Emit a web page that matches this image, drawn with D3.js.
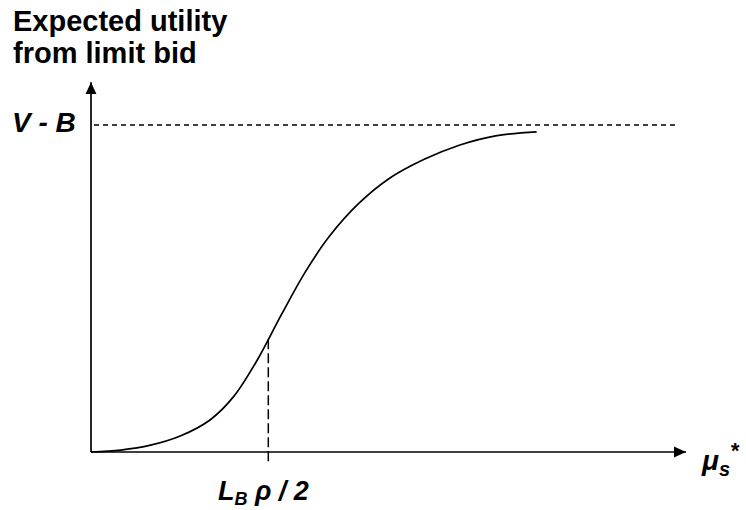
<!DOCTYPE html>
<html>
<head>
<meta charset="utf-8">
<script src="https://cdn.jsdelivr.net/npm/d3@7"></script>
<style>
  body { margin: 0; background: #fff; }
  text { font-family: Arial, "Liberation Sans", sans-serif; font-weight: bold; fill: #000; }
</style>
</head>
<body>
<script>
// curve (x in arbitrary units, y as share of V - B)
var curveX = [0, 0.5, 1.0, 1.5, 2.0, 2.4, 2.8, 3.2, 3.6, 4.0, 4.5, 5.0, 5.6, 6.2, 6.8, 7.49];
var curveY = [0, 0.006, 0.021, 0.049, 0.098, 0.170, 0.283, 0.420, 0.550, 0.658, 0.760, 0.835, 0.895, 0.939, 0.967, 0.979];
var markX = 2.98;      // L_B rho / 2
var markY = 0.345;
var capY = 1;          // V - B
var xMax = 10, yMax = 1.131;

var width = 746, height = 510;
var x = d3.scaleLinear().domain([0, xMax]).range([91, 686]);
var y = d3.scaleLinear().domain([0, 1]).range([452, 125]);

var svg = d3.select("body").append("svg")
    .attr("width", width)
    .attr("height", height);

var defs = svg.append("defs");
defs.append("marker")
    .attr("id", "arrow")
    .attr("viewBox", "0 0 12 12")
    .attr("refX", 12).attr("refY", 6)
    .attr("markerWidth", 12).attr("markerHeight", 12)
    .attr("markerUnits", "userSpaceOnUse")
    .attr("orient", "auto")
    .append("path")
    .attr("d", "M0,0.5 L12,6 L0,11.5 Z")
    .attr("fill", "#000");

// axes
svg.append("line")
    .attr("x1", x(0)).attr("y1", y(0))
    .attr("x2", x(0)).attr("y2", y(yMax))
    .attr("stroke", "#000").attr("stroke-width", 1.7)
    .attr("marker-end", "url(#arrow)");
svg.append("line")
    .attr("x1", x(0)).attr("y1", y(0))
    .attr("x2", x(xMax)).attr("y2", y(0))
    .attr("stroke", "#000").attr("stroke-width", 1.7)
    .attr("marker-end", "url(#arrow)");

// V - B level
svg.append("line")
    .attr("x1", x(0) + 3).attr("y1", y(capY))
    .attr("x2", x(9.87)).attr("y2", y(capY))
    .attr("stroke", "#000").attr("stroke-width", 1.5)
    .attr("stroke-dasharray", "5,4");

// marker line at L_B rho / 2
svg.append("line")
    .attr("x1", x(markX)).attr("y1", y(markY))
    .attr("x2", x(markX)).attr("y2", y(-0.03))
    .attr("stroke", "#000").attr("stroke-width", 1.5)
    .attr("stroke-dasharray", "10,4");

// utility curve
var pts = curveX.map(function (d, i) { return [d, curveY[i]]; });
var line = d3.line()
    .x(function (d) { return x(d[0]); })
    .y(function (d) { return y(d[1]); })
    .curve(d3.curveCatmullRom.alpha(0.5));
svg.append("path")
    .datum(pts)
    .attr("d", line)
    .attr("fill", "none")
    .attr("stroke", "#000")
    .attr("stroke-width", 1.7);

// labels
svg.append("text").attr("x", 13).attr("y", 31)
    .style("font-size", "29px").text("Expected utility");
svg.append("text").attr("x", 13).attr("y", 63)
    .style("font-size", "29px").text("from limit bid");

svg.append("text").attr("x", 12).attr("y", 132)
    .style("font-size", "28px").style("font-style", "italic").text("V - B");

var lb = svg.append("text").attr("x", 218).attr("y", 500)
    .style("font-size", "27px").style("font-style", "italic");
lb.append("tspan").text("L");
lb.append("tspan").attr("dy", 5).style("font-size", "18px").text("B");
lb.append("tspan").attr("dy", -5).text(" \u03c1 / 2");

var mu = svg.append("text").attr("x", 702).attr("y", 470)
    .style("font-size", "28px").style("font-style", "italic");
mu.append("tspan").text("\u03bc");
mu.append("tspan").attr("dy", 6).style("font-size", "20px").text("s");
mu.append("tspan").attr("dy", -18).style("font-size", "22px").text("*");
</script>
</body>
</html>
